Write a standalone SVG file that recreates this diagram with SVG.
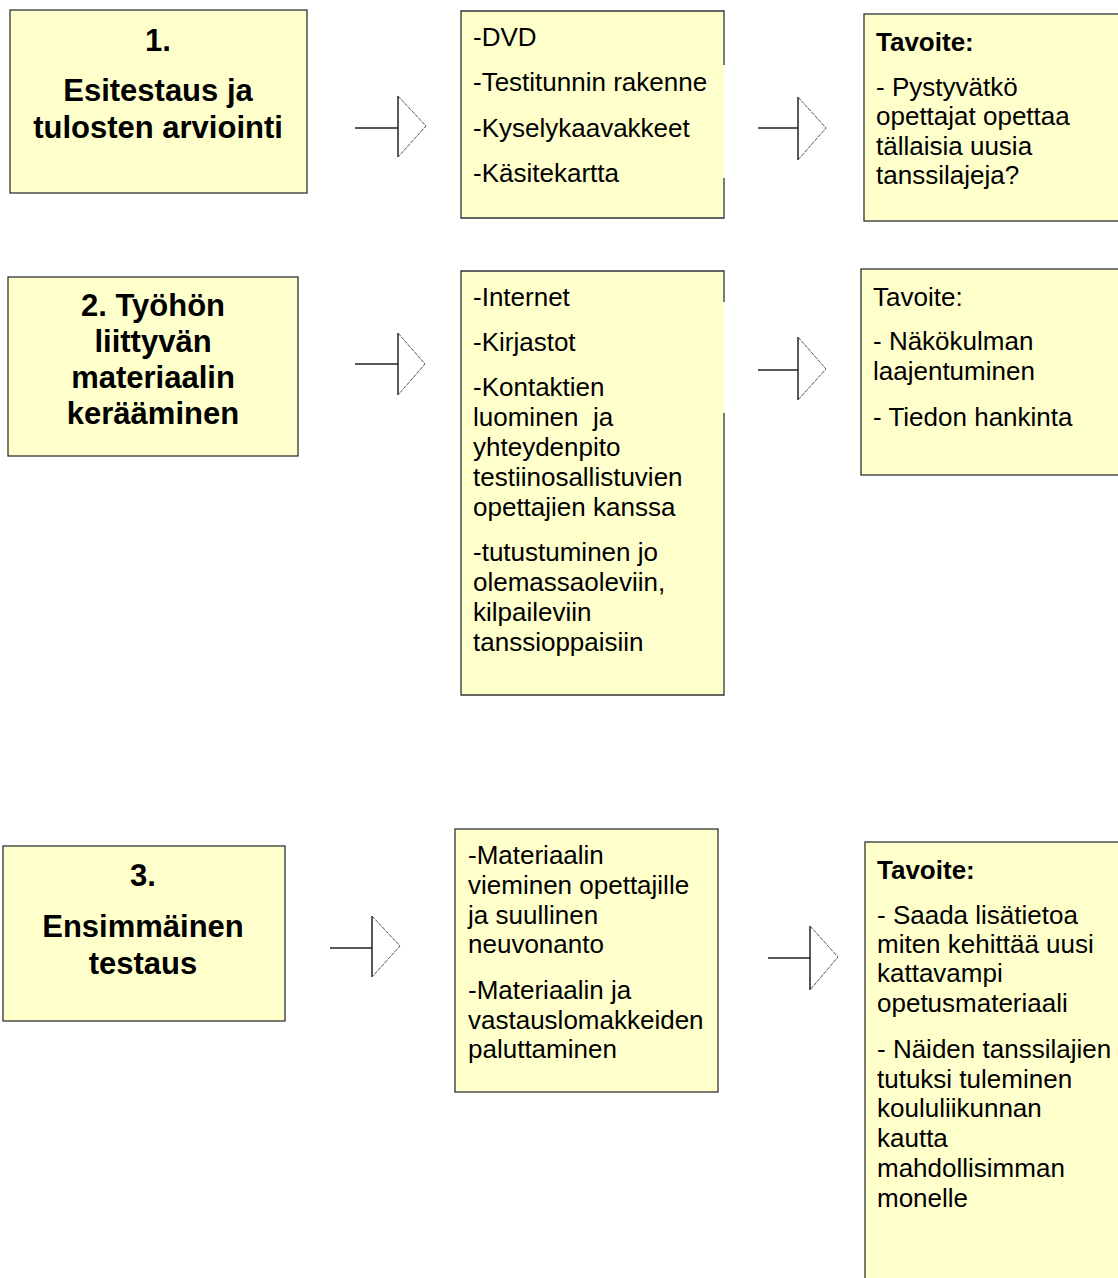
<svg xmlns="http://www.w3.org/2000/svg" width="1118" height="1278" viewBox="0 0 1118 1278">
<style>
.box{fill:#FFFFCC;stroke:#333;stroke-width:1.3}
.fill{fill:#FFFFCC;stroke:none}
.edge{stroke:#333;stroke-width:1.3;fill:none}
.t{font-family:"Liberation Sans",Arial,sans-serif;font-size:26px;fill:#000}
.b{font-weight:bold}
.h{font-family:"Liberation Sans",Arial,sans-serif;font-size:31px;font-weight:bold;fill:#000;text-anchor:middle}
.shaft{stroke:#222;stroke-width:1.5;fill:none}
.head{stroke:#555;stroke-width:1;fill:none;stroke-dasharray:4 1}
</style>
<rect width="1118" height="1278" fill="#fff"/>

<g id="node-step1">
<rect class="box" x="10" y="10" width="297" height="183"/>
<text class="h" x="158" y="51">1.</text>
<text class="h" x="158" y="101">Esitestaus ja</text>
<text class="h" x="158" y="138">tulosten arviointi</text>
</g>

<g id="node-materials1">
<rect class="fill" x="461" y="11" width="263" height="207"/>
<path class="edge" d="M724,65 V11 H461 V218 H724 V178"/>
<text class="t" x="473" y="46">-DVD</text>
<text class="t" x="473" y="91">-Testitunnin rakenne</text>
<text class="t" x="473" y="137">-Kyselykaavakkeet</text>
<text class="t" x="473" y="182">-Käsitekartta</text>
</g>

<g id="node-goal1">
<rect class="box" x="864" y="14" width="260" height="207"/>
<text class="t b" x="876" y="51">Tavoite:</text>
<text class="t" x="876" y="96">- Pystyvätkö</text>
<text class="t" x="876" y="125">opettajat opettaa</text>
<text class="t" x="876" y="155">tällaisia uusia</text>
<text class="t" x="876" y="184">tanssilajeja?</text>
</g>

<g id="node-step2">
<rect class="box" x="8" y="277" width="290" height="179"/>
<text class="h" x="153" y="316">2. Työhön</text>
<text class="h" x="153" y="352">liittyvän</text>
<text class="h" x="153" y="388">materiaalin</text>
<text class="h" x="153" y="424">kerääminen</text>
</g>

<g id="node-materials2">
<rect class="fill" x="461" y="271" width="263" height="424"/>
<path class="edge" d="M724,302 V271 H461 V695 H724 V413"/>
<text class="t" x="473" y="306">-Internet</text>
<text class="t" x="473" y="351">-Kirjastot</text>
<text class="t" x="473" y="396">-Kontaktien</text>
<text class="t" x="473" y="426" xml:space="preserve">luominen  ja</text>
<text class="t" x="473" y="456">yhteydenpito</text>
<text class="t" x="473" y="486">testiinosallistuvien</text>
<text class="t" x="473" y="516">opettajien kanssa</text>
<text class="t" x="473" y="561">-tutustuminen jo</text>
<text class="t" x="473" y="591">olemassaoleviin,</text>
<text class="t" x="473" y="621">kilpaileviin</text>
<text class="t" x="473" y="651">tanssioppaisiin</text>
</g>

<g id="node-goal2">
<rect class="box" x="861" y="269" width="263" height="206"/>
<text class="t" x="873" y="306">Tavoite:</text>
<text class="t" x="873" y="350">- Näkökulman</text>
<text class="t" x="873" y="380">laajentuminen</text>
<text class="t" x="873" y="426">- Tiedon hankinta</text>
</g>

<g id="node-step3">
<rect class="box" x="3" y="846" width="282" height="175"/>
<text class="h" x="143" y="886">3.</text>
<text class="h" x="143" y="937">Ensimmäinen</text>
<text class="h" x="143" y="974">testaus</text>
</g>

<g id="node-materials3">
<rect class="box" x="455" y="829" width="263" height="263"/>
<text class="t" x="468" y="864">-Materiaalin</text>
<text class="t" x="468" y="894">vieminen opettajille</text>
<text class="t" x="468" y="924">ja suullinen</text>
<text class="t" x="468" y="953">neuvonanto</text>
<text class="t" x="468" y="999">-Materiaalin ja</text>
<text class="t" x="468" y="1029">vastauslomakkeiden</text>
<text class="t" x="468" y="1058">paluttaminen</text>
</g>

<g id="node-goal3">
<rect class="box" x="865" y="842" width="260" height="450"/>
<text class="t b" x="877" y="879">Tavoite:</text>
<text class="t" x="877" y="924">- Saada lisätietoa</text>
<text class="t" x="877" y="953">miten kehittää uusi</text>
<text class="t" x="877" y="982">kattavampi</text>
<text class="t" x="877" y="1012">opetusmateriaali</text>
<text class="t" x="877" y="1058">- Näiden tanssilajien</text>
<text class="t" x="877" y="1088">tutuksi tuleminen</text>
<text class="t" x="877" y="1117">koululiikunnan</text>
<text class="t" x="877" y="1147">kautta</text>
<text class="t" x="877" y="1177">mahdollisimman</text>
<text class="t" x="877" y="1207">monelle</text>
</g>

<g id="connectors">
<path class="shaft" d="M355,128 H398 M398,96 V157"/>
<path class="head" d="M398,96 L426,126 L398,157"/>
<path class="shaft" d="M758,128 H798 M798,97 V160"/>
<path class="head" d="M798,97 L826,128 L798,160"/>
<path class="shaft" d="M355,364 H398 M398,333 V395"/>
<path class="head" d="M398,333 L425,364 L398,395"/>
<path class="shaft" d="M758,370 H798 M798,337 V400"/>
<path class="head" d="M798,337 L826,369 L798,400"/>
<path class="shaft" d="M330,948 H372 M372,916 V977"/>
<path class="head" d="M372,916 L400,946 L372,977"/>
<path class="shaft" d="M768,958 H810 M810,926 V990"/>
<path class="head" d="M810,926 L838,957 L810,990"/>
</g>
</svg>
